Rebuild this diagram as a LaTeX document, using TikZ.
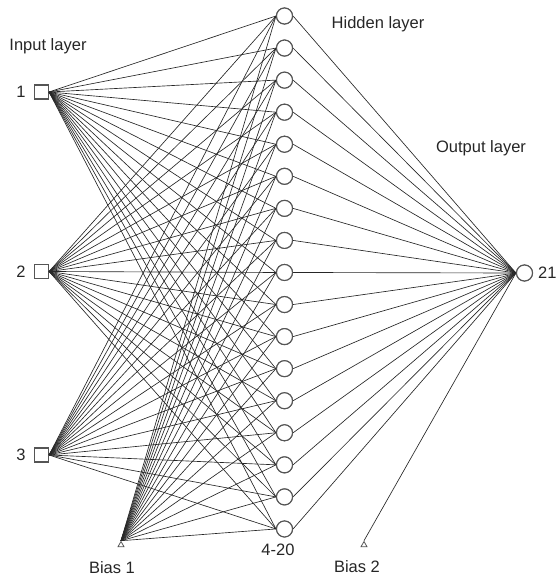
\documentclass[tikz,border=0pt]{standalone}
\usepackage{fontspec}
\setmainfont{Liberation Sans}
\usetikzlibrary{shapes.geometric}
\definecolor{lc}{HTML}{262626}
\definecolor{nc}{HTML}{555555}
\tikzset{
  inbox/.style={draw=nc, line width=1.1pt, minimum size=14pt, inner sep=0pt},
  hid/.style={circle, draw=nc, line width=1.1pt, minimum size=16pt, inner sep=0pt, fill=white},
  biasnode/.style={regular polygon, regular polygon sides=3, draw=nc, line width=0.8pt, minimum size=7pt, inner sep=0pt},
  conn/.style={draw=lc, line width=0.65pt},
  lbl/.style={font=\fontsize{16.5}{18}\selectfont, text=black!85, inner sep=0pt}
}
\begin{document}
\begin{tikzpicture}[x=1pt,y=-1pt]
\useasboundingbox (0,0) rectangle (558,577);
% input nodes
\node[inbox] (i1) at (41.5,92) {};
\node[inbox] (i2) at (41.5,271.5) {};
\node[inbox] (i3) at (41.5,455) {};
\node[lbl] (l1) at (21,92) {1};
\node[lbl] (l2) at (21,271.5) {2};
\node[lbl] (l3) at (21,455) {3};
% bias nodes
\node[biasnode] (b1) at (121,545) {};
\node[biasnode] (b2) at (364,545) {};
% output
\node[hid] (o) at (524.5,273) {};
\node[lbl, anchor=west] (ol) at (538,273) {21};
% hidden nodes
\foreach \k in {1,...,17} {
  \node[hid] (h\k) at (284.5,{16+(\k-1)*32.06}) {};
}
% connections
\foreach \k in {1,...,17} {
  \draw[conn] (i1.east) -- (h\k.west);
  \draw[conn] (i2.east) -- (h\k.west);
  \draw[conn] (i3.east) -- (h\k.west);
  \draw[conn] (b1.north) -- (h\k.west);
  \draw[conn] (h\k.east) -- (o.west);
}
\draw[conn] (b2.north) -- (o.west);
% redraw hidden circles on top
\foreach \k in {1,...,17} {
  \node[hid] at (h\k) {};
}
\node[hid] at (o) {};
% titles
\node[lbl] (t1) at (48,46) {Input layer};
\node[lbl] (t2) at (378,24) {Hidden layer};
\node[lbl] (t3) at (481,148) {Output layer};
\node[lbl] (t4) at (278,550) {4-20};
\node[lbl] (t5) at (112,568) {Bias 1};
\node[lbl] (t6) at (357,567) {Bias 2};
\end{tikzpicture}
\end{document}
